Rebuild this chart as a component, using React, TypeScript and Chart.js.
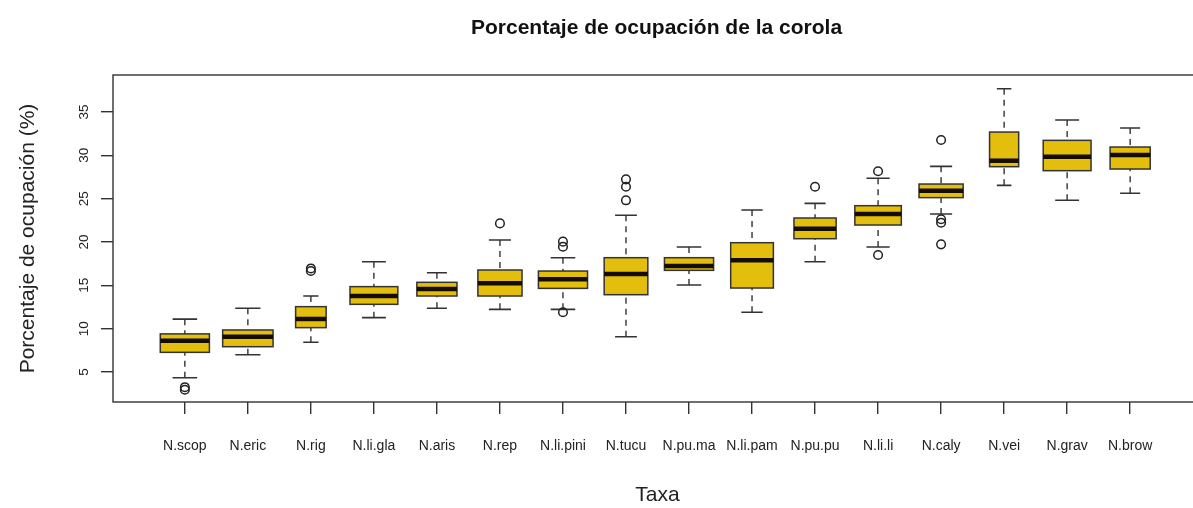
import React, { useEffect, useRef } from "react";
import { Chart, registerables } from "chart.js";

Chart.register(...registerables);

const taxa = ["N.scop", "N.eric", "N.rig", "N.li.gla", "N.aris", "N.rep", "N.li.pini", "N.tucu", "N.pu.ma", "N.li.pam", "N.pu.pu", "N.li.li", "N.caly", "N.vei", "N.grav", "N.brow"];
const lowerWhisker = [4.34, 7.0, 8.43, 11.27, 12.35, 12.23, 12.23, 9.07, 15.04, 11.89, 17.73, 19.42, 23.23, 26.54, 24.81, 25.62];
const q1 = [7.27, 7.92, 10.12, 12.81, 13.77, 13.77, 14.65, 13.92, 16.73, 14.69, 20.38, 21.96, 25.12, 28.69, 28.23, 28.42];
const median = [8.6, 9.07, 11.12, 13.77, 14.58, 15.23, 15.69, 16.31, 17.23, 17.89, 21.54, 23.23, 25.92, 29.38, 29.85, 30.04];
const q3 = [9.4, 9.85, 12.54, 14.85, 15.35, 16.77, 16.65, 18.19, 18.19, 19.92, 22.77, 24.19, 26.69, 32.69, 31.73, 30.96];
const upperWhisker = [11.1, 12.35, 13.77, 17.73, 16.46, 20.23, 18.19, 23.08, 19.42, 23.69, 24.46, 27.35, 28.73, 37.69, 34.08, 33.15];
const sampleSizes = [57, 60, 22, 54, 38, 46, 57, 45, 57, 43, 42, 51, 46, 20, 54, 38];
const outliers = [
  [2.95, 3.25],
  [],
  [16.65, 16.95],
  [],
  [],
  [22.15],
  [11.89, 19.46, 20.04],
  [24.81, 26.38, 27.23],
  [],
  [],
  [26.38],
  [18.5, 28.16],
  [19.73, 22.23, 22.62, 31.77],
  [],
  [],
  [],
];
const yTicks = [5, 10, 15, 20, 25, 30, 35];

const FONT = "'Liberation Sans', Arial, Helvetica, sans-serif";
const BOX_FILL = "#E3BE0C";
const LINE = "#333333";

const boxPlugin = {
  id: "boxplots",
  beforeDatasetsDraw(chart: any) {
    const { ctx, scales } = chart;
    const x = scales.x;
    const y = scales.y;
    const maxN = Math.max(...sampleSizes);
    ctx.save();
    taxa.forEach((_, i) => {
      const pos = i + 1;
      const cx = x.getPixelForValue(pos);
      const half = x.getPixelForValue(pos + 0.4 * Math.sqrt(sampleSizes[i] / maxN)) - cx;
      const yLW = y.getPixelForValue(lowerWhisker[i]);
      const yQ1 = y.getPixelForValue(q1[i]);
      const yMed = y.getPixelForValue(median[i]);
      const yQ3 = y.getPixelForValue(q3[i]);
      const yUW = y.getPixelForValue(upperWhisker[i]);

      ctx.strokeStyle = LINE;
      ctx.lineWidth = 1.4;
      ctx.setLineDash([6, 5]);
      ctx.beginPath();
      ctx.moveTo(cx, yUW);
      ctx.lineTo(cx, yQ3);
      ctx.moveTo(cx, yLW);
      ctx.lineTo(cx, yQ1);
      ctx.stroke();
      ctx.setLineDash([]);

      ctx.lineWidth = 1.6;
      ctx.beginPath();
      ctx.moveTo(cx - half / 2, yUW);
      ctx.lineTo(cx + half / 2, yUW);
      ctx.moveTo(cx - half / 2, yLW);
      ctx.lineTo(cx + half / 2, yLW);
      ctx.stroke();

      ctx.fillStyle = BOX_FILL;
      ctx.fillRect(cx - half, yQ3, 2 * half, yQ1 - yQ3);
      ctx.lineWidth = 1.5;
      ctx.strokeRect(cx - half, yQ3, 2 * half, yQ1 - yQ3);

      ctx.strokeStyle = "#140c00";
      ctx.lineWidth = 4.5;
      ctx.beginPath();
      ctx.moveTo(cx - half, yMed);
      ctx.lineTo(cx + half, yMed);
      ctx.stroke();
    });
    const a = chart.chartArea;
    ctx.strokeStyle = LINE;
    ctx.lineWidth = 1.4;
    ctx.strokeRect(a.left, a.top, a.right - a.left, a.bottom - a.top);
    ctx.restore();
  },
};

export default function App() {
  const ref = useRef<HTMLCanvasElement>(null);
  useEffect(() => {
    if (!ref.current) return;
    const points: { x: number; y: number }[] = [];
    outliers.forEach((vals, i) => vals.forEach((v) => points.push({ x: i + 1, y: v })));
    const chart = new Chart(ref.current, {
      type: "scatter",
      data: {
        datasets: [
          {
            label: "outliers",
            data: points,
            pointRadius: 4.3,
            pointBorderWidth: 1.5,
            pointBackgroundColor: "rgba(0,0,0,0)",
            pointBorderColor: "#222222",
            xAxisID: "x",
            yAxisID: "y",
          },
        ],
      },
      options: {
        animation: false,
        responsive: false,
        devicePixelRatio: 1,
        events: [],
        layout: { padding: 0 },
        plugins: {
          legend: { display: false },
          tooltip: { enabled: false },
          title: {
            display: true,
            text: "Porcentaje de ocupación de la corola",
            color: "#111111",
            font: { family: FONT, size: 21, weight: "bold" },
            padding: { top: 15.9, bottom: 33.9 },
          },
        },
        scales: {
          x: {
            type: "linear",
            position: "bottom",
            min: -0.14,
            max: 17.14,
            afterBuildTicks: (s: any) => {
              s.ticks = taxa.map((_, i) => ({ value: i + 1 }));
            },
            afterFit: (s: any) => {
              s.height = 106;
            },
            grid: { drawOnChartArea: false, drawTicks: true, tickLength: 12, tickColor: LINE, lineWidth: 1.4 },
            border: { display: false },
            ticks: {
              autoSkip: false,
              maxRotation: 0,
              minRotation: 0,
              padding: 24,
              color: "#222222",
              font: { family: FONT, size: 14 },
              callback: (v: any) => taxa[Number(v) - 1] ?? "",
            },
            title: {
              display: true,
              text: "Taxa",
              color: "#222222",
              font: { family: FONT, size: 21 },
              padding: { top: 0, bottom: 0 },
            },
          },
          y: {
            type: "linear",
            position: "left",
            min: 1.54,
            max: 39.27,
            afterBuildTicks: (s: any) => {
              s.ticks = yTicks.map((v) => ({ value: v }));
            },
            afterFit: (s: any) => {
              s.width = 113;
            },
            grid: { drawOnChartArea: false, drawTicks: true, tickLength: 12, tickColor: LINE, lineWidth: 1.4 },
            border: { display: false },
            ticks: {
              minRotation: 90,
              maxRotation: 90,
              crossAlign: "center",
              padding: 9,
              color: "#222222",
              font: { family: FONT, size: 13.5 },
            },
            title: {
              display: true,
              text: "Porcentaje de ocupación (%)",
              color: "#222222",
              font: { family: FONT, size: 21 },
              padding: { top: 15.4, bottom: 0 },
            },
          },
          yRight: {
            type: "linear",
            position: "right",
            display: true,
            grid: { display: false },
            border: { display: false },
            ticks: { display: false },
            afterFit: (s: any) => {
              s.width = 111;
            },
          },
        },
      },
      plugins: [boxPlugin],
    });
    return () => chart.destroy();
  }, []);
  return (
    <div style={{ position: "fixed", left: 0, top: 0, width: 1193, height: 508, overflow: "hidden", background: "#ffffff" }}>
      <canvas ref={ref} width={1313} height={508} style={{ display: "block", width: 1313, height: 508 }} />
    </div>
  );
}
